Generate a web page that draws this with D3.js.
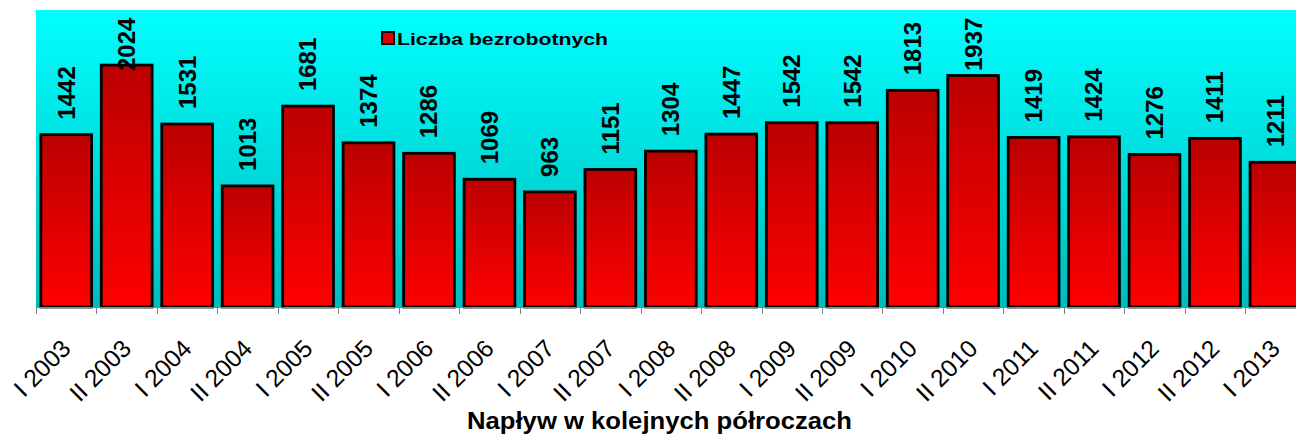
<!DOCTYPE html>
<html>
<head>
<meta charset="utf-8">
<title>Liczba bezrobotnych</title>
<script src="https://cdn.jsdelivr.net/npm/d3@7"></script>
<style>
  body { margin: 0; background: #fff; }
  text { font-family: Arial, "Liberation Sans", sans-serif; fill: #000; }
</style>
</head>
<body>
<div id="chart"></div>
<script>
// data
const periods = ["I 2003", "II 2003", "I 2004", "II 2004", "I 2005", "II 2005", "I 2006", "II 2006",
  "I 2007", "II 2007", "I 2008", "II 2008", "I 2009", "II 2009", "I 2010", "II 2010",
  "I 2011", "II 2011", "I 2012", "II 2012", "I 2013"];
const unemployed = [1442, 2024, 1531, 1013, 1681, 1374, 1286, 1069, 963, 1151, 1304, 1447,
  1542, 1542, 1813, 1937, 1419, 1424, 1276, 1411, 1211];
const seriesName = "Liczba bezrobotnych";
const axisTitle = "Napływ w kolejnych półroczach";

const width = 1296, height = 434;
const plot = { left: 36, top: 10, bottom: 307, step: 60.46 };

const svg = d3.select("#chart").append("svg")
    .attr("width", width)
    .attr("height", height);

const defs = svg.append("defs");
const bg = defs.append("linearGradient").attr("id", "bg")
    .attr("x1", 0).attr("y1", 0).attr("x2", 0).attr("y2", 1);
bg.append("stop").attr("offset", "0%").attr("stop-color", "#00ffff");
bg.append("stop").attr("offset", "100%").attr("stop-color", "#00bcbc");

const barGrad = defs.append("linearGradient").attr("id", "bar")
    .attr("x1", 0).attr("y1", 0).attr("x2", 0).attr("y2", 1);
barGrad.append("stop").attr("offset", "0%").attr("stop-color", "#bb0000");
barGrad.append("stop").attr("offset", "100%").attr("stop-color", "#ff0000");

const x = d3.scaleBand()
    .domain(periods)
    .range([plot.left, plot.left + periods.length * plot.step])
    .paddingInner(0.16)
    .paddingOuter(0.08);

const y = d3.scaleLinear()
    .domain([0, 2485])
    .range([plot.bottom, plot.top]);

// plot area background
svg.append("rect")
    .attr("x", plot.left)
    .attr("y", plot.top)
    .attr("width", width - plot.left)
    .attr("height", plot.bottom - plot.top)
    .attr("fill", "url(#bg)");

// bars
svg.append("g")
  .selectAll("rect")
  .data(unemployed)
  .join("rect")
    .attr("x", (d, i) => x(periods[i]))
    .attr("y", d => y(d))
    .attr("width", x.bandwidth())
    .attr("height", d => y(0) - y(d))
    .attr("fill", "url(#bar)")
    .attr("stroke", "#000")
    .attr("stroke-width", 2.8);

// x axis line + ticks on band boundaries
const edge = x.step() * x.paddingInner() / 2;
svg.append("line")
    .attr("x1", plot.left).attr("x2", width)
    .attr("y1", plot.bottom + 0.5).attr("y2", plot.bottom + 0.5)
    .attr("stroke", "#808080");
svg.append("g")
  .selectAll("line")
  .data(periods)
  .join("line")
    .attr("x1", d => Math.round(x(d) - edge) + 0.5)
    .attr("x2", d => Math.round(x(d) - edge) + 0.5)
    .attr("y1", plot.bottom)
    .attr("y2", plot.bottom + 7)
    .attr("stroke", "#808080");

// category labels
svg.append("g")
  .selectAll("text")
  .data(periods)
  .join("text")
    .attr("transform", d => `translate(${x(d) + x.bandwidth() / 2 + 6},${plot.bottom + 43}) rotate(-45)`)
    .attr("text-anchor", "end")
    .style("font-size", "24.5px")
    .text(d => d);

// value labels (kept inside the plot area, like the original)
svg.append("g")
  .selectAll("text")
  .data(unemployed)
  .join("text")
    .attr("transform", (d, i) => `translate(${x(periods[i]) + x.bandwidth() / 2},${Math.max(y(d) - 15, 71)}) rotate(-90)`)
    .attr("dy", "0.35em")
    .style("font-size", "24px")
    .style("font-weight", "bold")
    .text(d => d);

// legend
const legend = svg.append("g");
legend.append("rect")
    .attr("x", 382).attr("y", 32)
    .attr("width", 12).attr("height", 12)
    .attr("fill", "#e00000")
    .attr("stroke", "#000")
    .attr("stroke-width", 2);
legend.append("text")
    .attr("x", 397).attr("y", 45)
    .attr("textLength", 211)
    .attr("lengthAdjust", "spacingAndGlyphs")
    .style("font-size", "17px")
    .style("font-weight", "bold")
    .text(seriesName);

// axis title
svg.append("text")
    .attr("x", 467).attr("y", 429)
    .attr("textLength", 385)
    .attr("lengthAdjust", "spacingAndGlyphs")
    .style("font-size", "23px")
    .style("font-weight", "bold")
    .text(axisTitle);
</script>
</body>
</html>
